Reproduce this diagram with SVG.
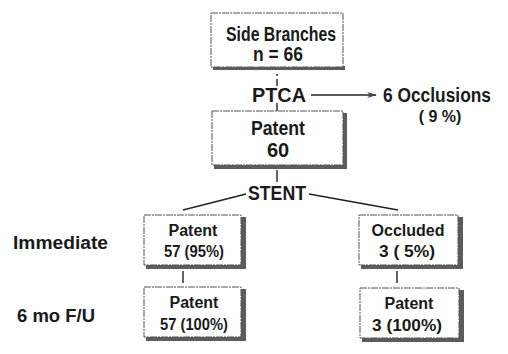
<svg xmlns="http://www.w3.org/2000/svg" width="508" height="354" viewBox="0 0 508 354">
<style>
.box{fill:#fff;stroke:#555;stroke-width:1;stroke-dasharray:7 1 2 1}
.sh{fill:#5c5c5c}
.t{font-family:"Liberation Sans",Arial,sans-serif;font-weight:bold;fill:#1a1a1a;text-anchor:middle}
.big{font-size:20px}
.sm{font-size:16px}
.lab{font-family:"Liberation Sans",Arial,sans-serif;font-weight:bold;fill:#1a1a1a;font-size:18px}
.ln{stroke:#222;stroke-width:1.4;fill:none}
</style>
<defs>
<marker id="ah" markerWidth="10" markerHeight="8" refX="9" refY="4" orient="auto" markerUnits="userSpaceOnUse">
<path d="M0,1 L10,4 L0,7 L3,4 Z" fill="#444"/>
</marker>
</defs>
<g id="connectors">
<line class="ln" x1="277" y1="74" x2="277" y2="76"/>
<line class="ln" x1="277" y1="79" x2="277" y2="86"/>
<line class="ln" x1="277" y1="103" x2="277" y2="111"/>
<line class="ln" x1="311" y1="95" x2="376" y2="95" stroke-width="1.1" marker-end="url(#ah)"/>
<line class="ln" x1="277" y1="170" x2="277" y2="182"/>
<line class="ln" x1="246" y1="194" x2="183" y2="210" stroke-width="2"/>
<line class="ln" x1="309" y1="194" x2="398" y2="210" stroke-width="2"/>
<line class="ln" x1="183" y1="271" x2="183" y2="283"/>
<line class="ln" x1="397" y1="271" x2="397" y2="283"/>
</g>
<g id="side-branches">
<rect class="sh" x="213" y="66" width="132" height="4"/>
<rect class="box" x="211" y="13" width="132" height="54"/>
<text class="t big" x="281" y="41" textLength="110" lengthAdjust="spacingAndGlyphs">Side Branches</text>
<text class="t big" x="278" y="61" textLength="50" lengthAdjust="spacingAndGlyphs">n = 66</text>
</g>
<g id="ptca">
<text class="t big" x="279" y="102" textLength="54" lengthAdjust="spacingAndGlyphs">PTCA</text>
</g>
<g id="occlusions">
<text class="t big" x="437" y="102" textLength="108" lengthAdjust="spacingAndGlyphs">6  Occlusions</text>
<text class="t sm" x="440" y="122">( 9 %)</text>
</g>
<g id="patent-60">
<rect class="sh" x="343" y="113" width="4" height="56"/>
<rect class="sh" x="214" y="165" width="133" height="4"/>
<rect class="box" x="212" y="111" width="131" height="54"/>
<text class="t big" x="278" y="135" textLength="54" lengthAdjust="spacingAndGlyphs">Patent</text>
<text class="t big" x="278" y="157">60</text>
</g>
<g id="stent">
<text class="t big" x="277" y="200" textLength="58" lengthAdjust="spacingAndGlyphs">STENT</text>
</g>
<g id="patent-57">
<rect class="sh" x="241" y="217" width="5" height="52"/>
<rect class="sh" x="146" y="265" width="100" height="4"/>
<rect class="box" x="144" y="215" width="97" height="50"/>
<text class="t sm" x="193" y="236">Patent</text>
<text class="t sm" x="194" y="257" textLength="60" lengthAdjust="spacingAndGlyphs">57 (95%)</text>
</g>
<g id="occluded-3">
<rect class="sh" x="458" y="217" width="5" height="52"/>
<rect class="sh" x="361" y="265" width="102" height="4"/>
<rect class="box" x="359" y="215" width="99" height="50"/>
<text class="t sm" x="408" y="236">Occluded</text>
<text class="t sm" x="407" y="257" textLength="56" lengthAdjust="spacingAndGlyphs">3 ( 5%)</text>
</g>
<g id="patent-57-fu">
<rect class="sh" x="241" y="289" width="5" height="52"/>
<rect class="sh" x="146" y="337" width="100" height="4"/>
<rect class="box" x="144" y="287" width="97" height="50"/>
<text class="t sm" x="194" y="308">Patent</text>
<text class="t sm" x="194" y="330" textLength="68" lengthAdjust="spacingAndGlyphs">57 (100%)</text>
</g>
<g id="patent-3-fu">
<rect class="sh" x="459" y="290" width="5" height="52"/>
<rect class="sh" x="362" y="338" width="102" height="4"/>
<rect class="box" x="360" y="288" width="99" height="50"/>
<text class="t sm" x="409" y="309">Patent</text>
<text class="t sm" x="407" y="331" textLength="70" lengthAdjust="spacingAndGlyphs">3 (100%)</text>
</g>
<g id="row-labels">
<text class="lab" x="13" y="249" textLength="95" lengthAdjust="spacingAndGlyphs">Immediate</text>
<text class="lab" x="17" y="322" textLength="78" lengthAdjust="spacingAndGlyphs">6 mo F/U</text>
</g>
</svg>
